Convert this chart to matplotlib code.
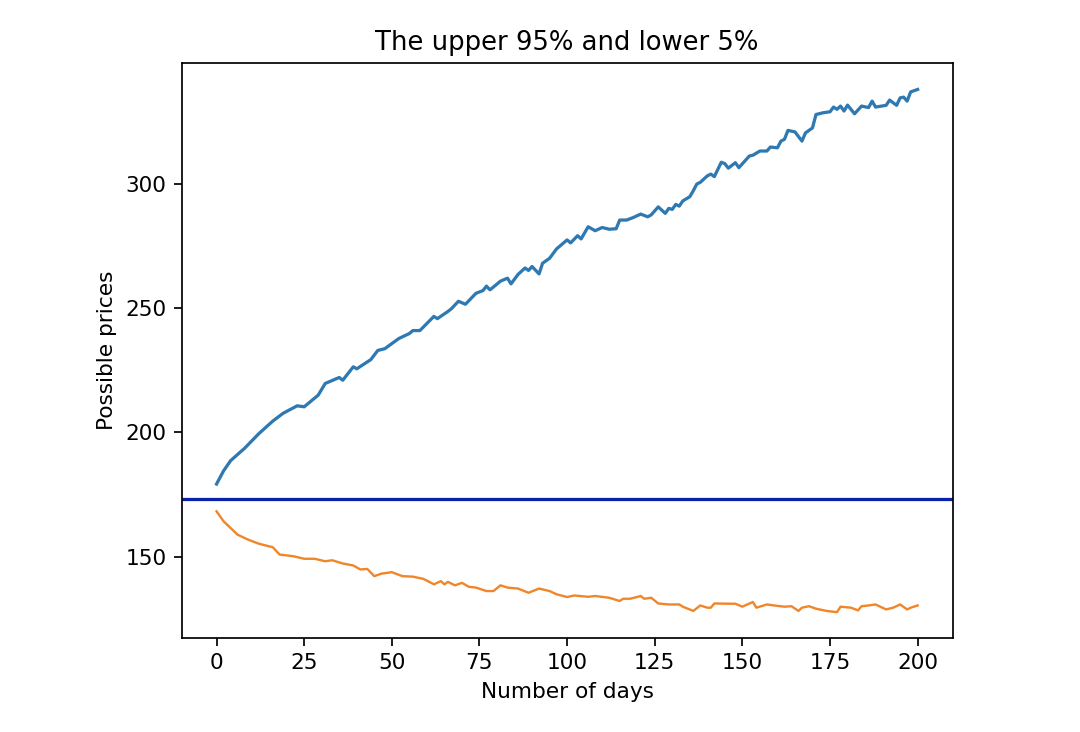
import matplotlib
matplotlib.use("Agg")
import matplotlib.pyplot as plt

# upper 95% path (days, prices)
upper_days = [0, 2, 4, 8, 12, 16, 19, 23, 25, 29, 31, 35, 36, 39, 40, 44, 46, 48,
              52, 55, 56, 58, 62, 63, 66, 67, 69, 71, 74, 76, 77, 78, 81, 83, 84,
              86, 88, 89, 90, 92, 93, 95, 97, 100, 101, 103, 104, 106, 108, 110,
              112, 114, 115, 117, 119, 121, 123, 124, 126, 128, 129, 130, 131, 132,
              133, 135, 136, 137, 138, 140, 141, 142, 144, 145, 146, 148, 149, 152,
              153, 155, 157, 158, 160, 161, 162, 163, 165, 167, 168, 170, 171, 173,
              175, 176, 177, 178, 179, 180, 182, 184, 186, 187, 188, 191, 192, 194,
              195, 196, 197, 198, 200]
upper_prices = [179.2, 184.5, 188.6, 193.6, 199.4, 204.5, 207.7, 210.7, 210.3, 215.0,
                219.7, 222.1, 221.0, 226.4, 225.6, 229.3, 233.0, 233.7, 237.8, 239.8,
                241.0, 241.0, 246.7, 245.8, 248.7, 249.8, 252.8, 251.6, 256.0, 257.1,
                258.9, 257.4, 260.9, 262.1, 259.8, 263.6, 266.2, 265.2, 266.8, 263.8,
                268.1, 270.1, 273.9, 277.5, 276.3, 279.2, 277.9, 282.8, 281.2, 282.5,
                281.8, 282.0, 285.5, 285.5, 286.6, 287.9, 286.8, 287.6, 290.8, 288.2,
                290.2, 289.8, 291.8, 291.1, 293.2, 294.9, 297.3, 300.0, 300.7, 303.3,
                304.0, 303.0, 308.8, 308.2, 306.4, 308.6, 306.6, 311.3, 311.6, 313.3,
                313.3, 314.9, 314.6, 317.3, 318.0, 321.6, 321.0, 317.3, 320.6, 322.6,
                328.0, 328.7, 329.1, 331.0, 330.1, 331.4, 329.4, 331.8, 328.3, 331.4,
                330.8, 333.4, 331.0, 331.7, 333.8, 331.7, 334.7, 335.0, 333.4, 337.1,
                338.1]

# lower 5% path
lower_days = [0, 2, 4, 6, 9, 12, 15, 16, 18, 22, 25, 28, 31, 33, 36, 39, 41, 43, 45,
              47, 50, 53, 56, 59, 60, 62, 64, 65, 66, 68, 70, 72, 74, 77, 79, 81, 83,
              86, 89, 92, 95, 97, 100, 102, 106, 108, 112, 115, 116, 118, 121, 122,
              124, 126, 129, 132, 133, 136, 138, 140, 141, 142, 146, 148, 150, 153,
              154, 157, 159, 162, 164, 166, 167, 169, 171, 174, 177, 178, 181, 183,
              184, 186, 188, 191, 193, 195, 197, 198, 200]
lower_prices = [168.2, 164.2, 161.5, 158.8, 156.8, 155.2, 154.1, 153.8, 150.8, 150.1,
                149.1, 149.1, 148.1, 148.5, 147.2, 146.4, 144.8, 145.0, 142.1, 143.1,
                143.7, 142.1, 141.9, 141.0, 140.3, 138.8, 140.1, 138.8, 139.8, 138.4,
                139.4, 137.8, 137.5, 136.1, 136.1, 138.4, 137.5, 137.1, 135.4, 137.1,
                136.1, 134.8, 133.7, 134.3, 133.8, 134.1, 133.4, 132.1, 133.0, 133.0,
                134.1, 133.0, 133.4, 131.1, 130.7, 130.7, 129.8, 128.1, 130.3, 129.4,
                129.4, 131.1, 131.0, 131.0, 129.8, 131.7, 129.4, 130.7, 130.3, 129.8,
                130.0, 128.1, 129.4, 130.0, 129.0, 128.1, 127.6, 129.8, 129.4, 128.3,
                130.0, 130.3, 130.7, 128.7, 129.4, 130.7, 128.7, 129.4, 130.3]

start_price = 173.3

dpi = 155.6
fig = plt.figure(figsize=(1080 / dpi, 732 / dpi), dpi=dpi)
ax = fig.add_axes([181.5 / 1080, 1 - 638.3 / 732,
                   (952.7 - 181.5) / 1080, (638.3 - 63.3) / 732])

ax.plot(upper_days, upper_prices, color="#2f79b2")
ax.plot(lower_days, lower_prices, color="#f0862a", lw=1.1)
ax.axhline(start_price, color="#0a22a8")

ax.set_title("The upper 95% and lower 5%")
ax.set_xlabel("Number of days")
ax.set_ylabel("Possible prices")
ax.set_yticks([150, 200, 250, 300])

fig.savefig("out.png", dpi=dpi, facecolor="white")
plt.close()
